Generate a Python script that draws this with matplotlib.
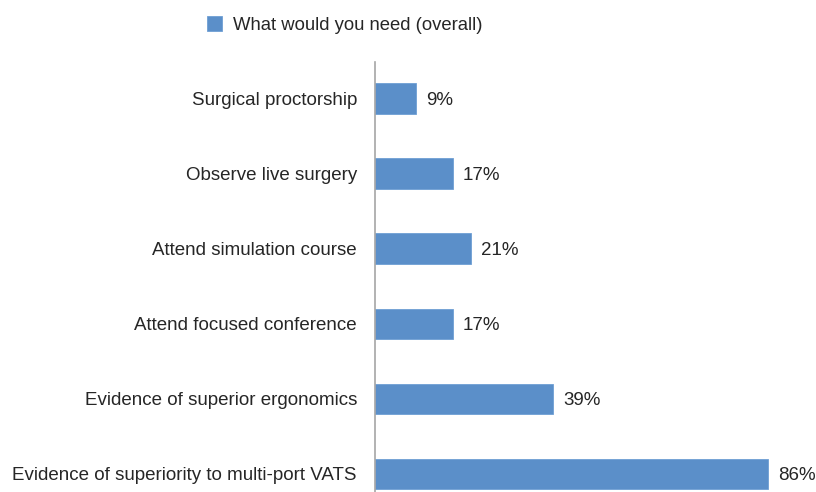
import matplotlib.pyplot as plt
from matplotlib.patches import Patch

categories = [
    "Evidence of superiority to multi-port VATS",
    "Evidence of superior ergonomics",
    "Attend focused conference",
    "Attend simulation course",
    "Observe live surgery",
    "Surgical proctorship",
]
values = [86, 39, 17, 21, 17, 9]
series_name = "What would you need (overall)"

BAR_COLOR = "#5B8FC9"
TEXT_COLOR = "#262626"
FS = 13.5

plt.rcParams['font.family'] = ['Liberation Sans', 'DejaVu Sans']

fig = plt.figure(figsize=(8.16, 4.92), dpi=100)
ax = fig.add_axes([375 / 816, 0.0, 1 - 375 / 816, 1 - 62 / 492])

pos = list(range(len(categories)))
ax.barh(pos, values, height=0.41, color=BAR_COLOR, edgecolor="#6f9fd4", linewidth=0.6)

for p, v in zip(pos, values):
    ax.annotate(f"{v}%", xy=(v, p), xytext=(7.5, 0), textcoords="offset points",
                va="center_baseline", ha="left", fontsize=FS, color=TEXT_COLOR, clip_on=False)

ax.set_yticks(pos)
ax.set_yticklabels(categories, fontsize=FS, color=TEXT_COLOR)
ax.tick_params(axis="y", length=0, pad=13)
ax.set_xticks([])
ax.set_xlim(0, 96.5)
ax.set_ylim(-0.24, 5.49)

for s in ["top", "right", "bottom"]:
    ax.spines[s].set_visible(False)
ax.spines["left"].set_color("#a6a6a6")
ax.spines["left"].set_linewidth(1.2)

handle = Patch(facecolor=BAR_COLOR, edgecolor="#6f9fd4", linewidth=0.6)
fig.legend([handle], [series_name], loc="center left", bbox_to_anchor=(190 / 816, 1 - 25 / 492),
           frameon=False, fontsize=13.3, handlelength=0.85, handleheight=0.85, handletextpad=0.6,
           labelcolor=TEXT_COLOR)

fig.savefig("out.png", dpi=100)
